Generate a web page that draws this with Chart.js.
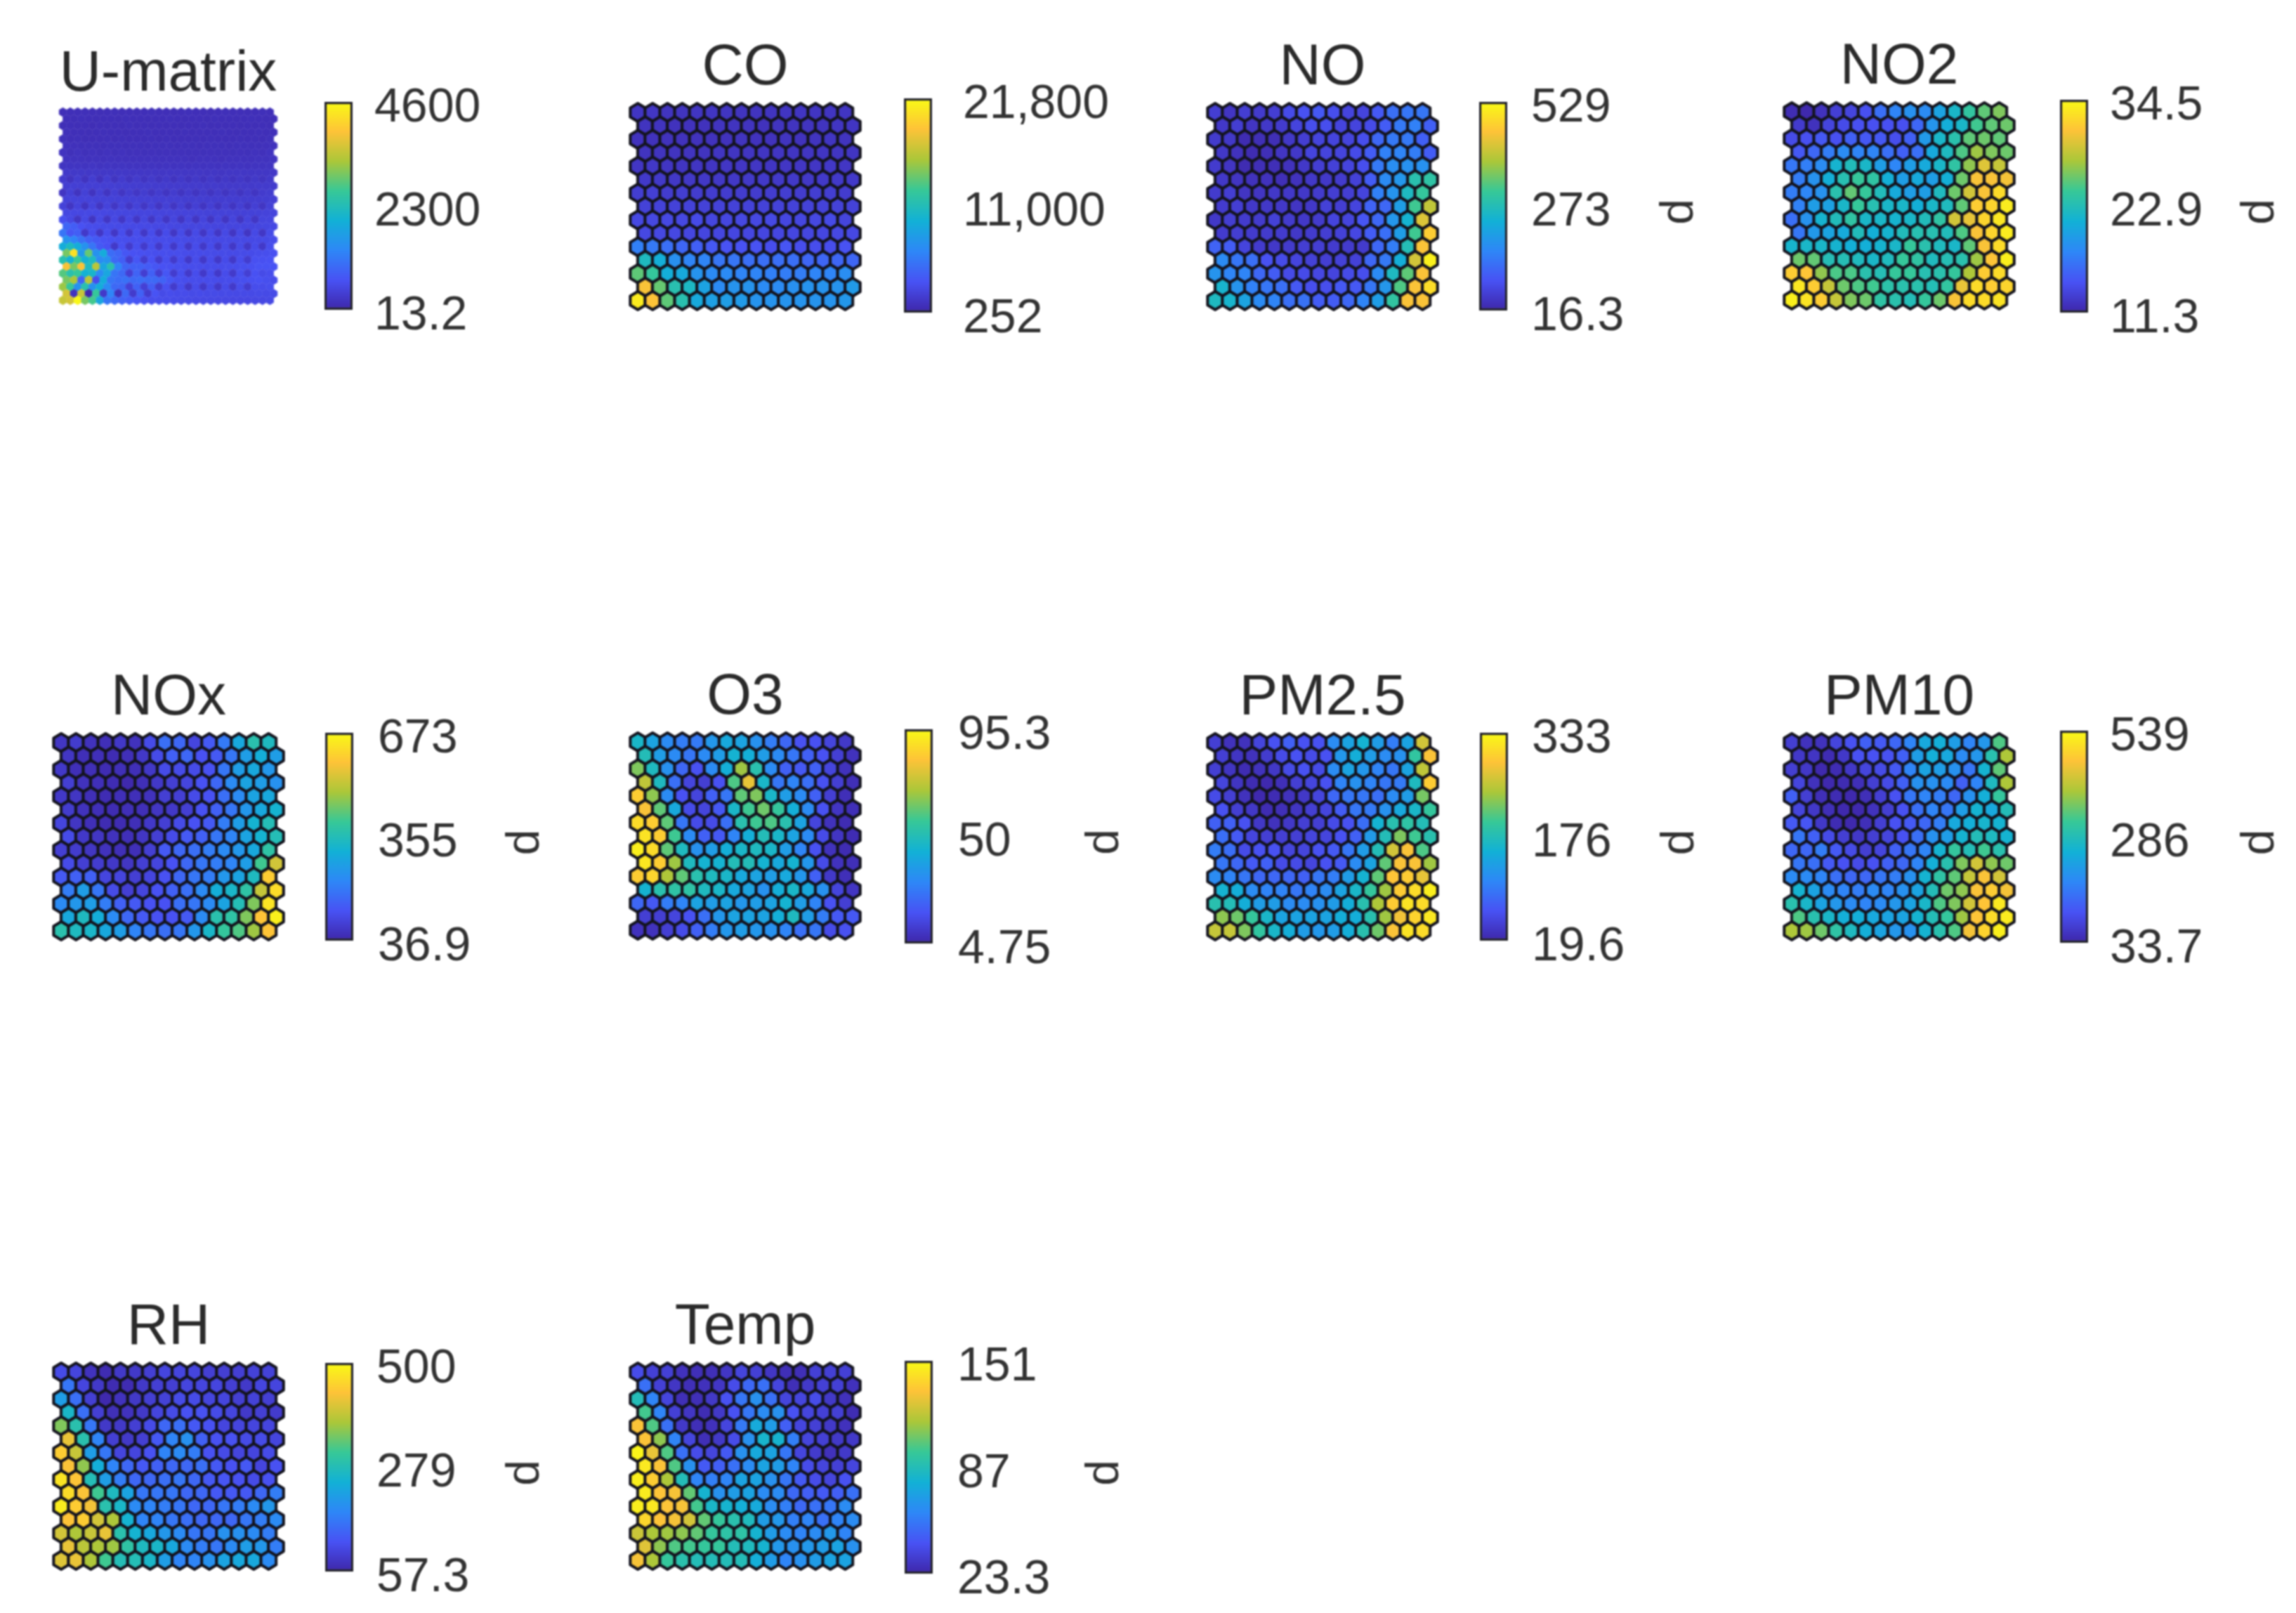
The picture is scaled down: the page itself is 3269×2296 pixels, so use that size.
<!DOCTYPE html>
<html>
<head>
<meta charset="utf-8">
<title>SOM component planes</title>
<script src="https://cdn.jsdelivr.net/npm/chart.js@4"></script>
<style>
html, body { margin: 0; background: #fff; }
#page { position: relative; width: 3269px; height: 2296px; overflow: hidden; filter: blur(0.8px); }
canvas { position: absolute; }
</style>
</head>
<body>
<div id="page"></div>
<script>
const names = ["U-matrix", "CO", "NO", "NO2", "NOx", "O3", "PM2.5", "PM10", "RH", "Temp"];
const sideLabels = ["", "", "d", "d", "d", "d", "d", "d", "d", "d"];

const uValues = [
  [140,150,150,160,150,140,150,160,150,150,140,150,160,150,150,140,150,160,150,150,140,150,160,150,150,140,150,160,150],
  [150,140,160,150,140,150,150,140,160,150,150,140,150,150,160,150,140,150,150,140,160,150,150,140,150,160,150,140,150],
  [140,150,140,150,130,150,140,150,140,160,140,150,140,150,140,150,140,150,140,160,140,150,140,150,140,150,140,150,140],
  [160,150,150,140,150,160,150,150,140,150,150,160,150,150,150,140,160,150,150,150,150,160,150,140,150,150,160,150,160],
  [170,150,160,140,150,150,160,140,160,150,150,150,160,140,160,150,150,150,160,150,160,150,150,150,160,150,160,150,170],
  [190,180,170,170,170,160,170,170,160,170,170,160,170,170,170,160,170,170,160,170,170,170,160,170,170,170,170,180,190],
  [210,170,200,170,190,170,190,170,190,170,180,170,180,170,180,170,180,170,180,170,180,170,180,170,180,170,190,180,210],
  [210,200,200,190,200,190,200,190,190,190,190,190,190,190,190,190,190,180,190,190,190,180,190,190,190,190,200,200,220],
  [230,240,240,220,250,220,240,220,230,220,220,210,220,210,220,210,220,210,220,210,220,210,220,210,220,210,220,220,230],
  [300,290,290,280,290,280,280,280,280,270,270,260,270,260,270,260,260,260,260,250,260,250,260,260,260,260,260,260,280],
  [330,220,350,220,360,210,360,230,330,240,320,240,310,230,300,220,300,220,290,220,290,220,280,220,280,220,290,230,300],
  [370,390,380,390,390,380,380,370,370,360,350,350,340,340,330,330,320,320,320,310,320,310,310,310,310,310,320,320,330],
  [240,400,220,410,220,400,240,390,250,360,260,350,250,340,240,340,230,330,230,320,230,320,230,320,230,320,240,330,350],
  [430,440,440,440,430,430,430,420,420,410,400,400,390,390,380,380,370,370,370,360,360,360,360,360,350,360,360,370,390],
  [430,250,450,240,460,250,450,260,440,270,430,260,420,250,410,250,400,240,390,240,390,240,380,240,380,240,390,250,410],
  [500,510,510,520,520,510,500,500,490,490,480,480,470,460,460,450,450,440,440,430,430,430,430,420,420,430,430,440,460],
  [620,520,260,530,240,530,260,520,270,510,270,500,260,490,260,480,250,470,250,460,250,460,250,460,250,460,260,470,480],
  [900,800,650,590,580,560,560,550,550,540,540,530,520,520,510,500,500,490,490,490,480,480,480,480,480,480,490,500,520],
  [1100,720,820,300,600,260,600,270,600,280,590,280,580,270,570,260,560,260,550,260,540,260,530,250,530,250,540,260,560],
  [1500,1300,1050,850,760,680,640,620,610,600,600,590,580,580,570,570,560,550,550,540,540,540,530,530,530,540,540,550,580],
  [1900,2200,1900,1500,1100,760,660,300,640,320,620,320,610,310,600,300,590,290,580,290,570,290,560,280,560,290,570,300,600],
  [3000,4300,1600,2900,1500,1900,1000,900,720,660,640,620,610,610,590,590,580,570,570,560,560,560,550,550,560,570,590,610,640],
  [2400,2000,2600,2000,2200,1400,1500,950,820,360,720,350,660,340,620,320,600,300,590,300,580,300,570,300,600,350,640,640,660],
  [3900,3000,3900,2200,3400,1800,2400,1300,900,840,840,780,720,660,640,620,600,590,580,570,580,580,590,600,620,640,680,680,680],
  [2800,2400,2600,2000,2100,1400,1800,1100,950,380,880,370,840,370,720,340,620,310,600,300,590,300,580,310,620,380,660,560,600],
  [3000,3300,900,3400,600,1900,1100,1000,1050,950,1000,950,950,880,720,620,600,590,580,580,580,570,580,590,620,640,660,620,580],
  [3200,2600,1500,2400,1500,1900,1400,950,900,420,860,400,800,360,640,320,600,300,580,300,570,300,570,310,590,340,600,580,610],
  [3600,200,3500,50,2600,300,1300,190,950,320,850,340,680,560,600,570,580,560,570,550,560,550,550,540,550,550,560,550,560],
  [3500,3600,4550,3000,2700,1800,1100,950,850,780,700,640,600,590,580,570,560,550,540,530,530,520,520,510,510,510,520,520,530]
];
const coValues = [
  [1300,1400,1200,1200,1300,1300,1300,1200,1200,1200,1300,1300,1300,1300,1300],
  [1200,1200,1100,1100,1100,1200,1200,1200,1100,1200,1200,1200,1200,1300,1300],
  [1100,1100,1100,1100,1100,1100,1100,1200,1100,1100,1200,1100,1200,1300,1200],
  [1200,1200,1200,1200,1200,1300,1300,1300,1300,1300,1300,1300,1300,1300,1300],
  [1400,1500,1300,1300,1300,1300,1400,1400,1400,1300,1400,1400,1400,1500,1400],
  [1600,1600,1500,1500,1500,1500,1500,1600,1600,1600,1600,1500,1600,1600,1600],
  [1900,2000,1800,1900,1800,1800,1800,1800,1800,1800,1900,1800,1900,1900,1800],
  [2200,2200,2200,2200,2200,2200,2200,2200,2200,2200,2200,2200,2200,2200,2200],
  [2600,2600,2600,2600,2800,2500,2500,2600,2600,2700,2500,2500,2600,2800,2400],
  [2600,2600,2600,2500,2500,2500,2500,2500,2500,2500,2500,2500,2500,2600,2600],
  [6000,5600,5000,4500,4100,3700,3300,3300,3300,3000,3500,3000,3000,3000,3300],
  [10600,9300,7100,6300,6300,5400,5400,5000,5000,5000,5000,4500,4500,4500,4500],
  [13600,12300,9300,8900,7300,6700,6700,6300,6300,6000,5800,5800,6300,6300,6900],
  [18500,13800,11400,10400,8400,6700,7300,7300,6700,6700,7100,7300,7300,7300,7800],
  [20900,18700,13600,11400,8900,8200,8000,7800,7300,7300,7300,7300,7300,7300,7600]
];
const noValues = [
  [57,42,57,52,57,78,88,98,83,67,67,98,129,139,139],
  [47,57,42,47,52,67,83,83,67,67,78,103,144,155,108],
  [52,47,26,31,31,47,57,67,67,67,83,119,144,144,108],
  [47,37,26,31,42,47,67,67,67,78,103,155,160,149,103],
  [52,42,26,31,31,37,47,57,62,67,83,144,175,180,180],
  [47,42,37,37,31,37,47,47,52,62,103,170,190,283,293],
  [52,57,42,42,47,47,47,52,57,57,67,155,185,262,303],
  [52,57,47,47,47,42,47,62,57,67,113,119,201,314,401],
  [47,57,52,52,62,52,47,52,67,67,93,119,190,242,426],
  [52,57,52,52,52,47,52,57,62,72,103,129,201,314,467],
  [113,103,67,52,47,52,57,57,52,52,52,119,149,273,452],
  [170,139,129,88,78,67,62,57,62,62,119,144,231,416,514],
  [185,160,160,119,103,78,78,72,67,78,83,170,262,334,452],
  [247,185,155,139,129,98,83,83,98,98,139,190,324,452,488],
  [262,247,211,170,160,129,134,103,103,119,160,201,298,452,452]
];
const no2Values = [
  [11.8,11.5,12.2,13.2,13.6,14.5,16.4,17.8,18.7,18.3,20.1,22,24.1,25.7,26.6],
  [12.9,12.2,13.6,14.1,14.5,14.5,14.5,14.5,15.9,19,21,22,24.8,25.7,26.1],
  [14.1,14.5,15,14.5,15.5,15,15,14.3,15.5,19.4,22,23.4,25.7,26.1,25.7],
  [15,15.9,17.3,18.3,17.8,17.8,16.4,15.5,16.4,20.6,22.4,25.2,27.5,26.6,26.1],
  [16.9,17.4,18.3,21.6,22.7,22,19.7,17.9,19.7,20.7,22,23.9,27.1,29.9,28.9],
  [17.3,18.8,21.1,23.2,24.4,23.9,21.1,19.7,20.7,19.7,21.1,26.1,31,31,30.8],
  [17.3,17.9,18.8,23.4,25.8,24.4,22.7,20.7,19.7,19.7,22.5,26.1,29.4,31,32.6],
  [17.6,19.7,20,22,24.4,23.2,22,22,21.1,22,22.5,25.7,31.7,32.2,33.6],
  [16.4,18.8,21.6,22.7,23.9,22,22,21.6,22,22.7,23.9,29.4,30.3,32.2,33.3],
  [16.9,19.3,20.2,20.7,22.7,21.1,21.6,22.7,23.2,23.2,22.7,25.2,31,32.2,33.6],
  [21.7,22,22,21.6,21.1,21.1,21.6,22,24.4,23.4,22.5,22,25.7,31,32.6],
  [26.1,25.8,23,23,22.5,22,22.5,24.4,23.9,22.5,23,23.4,27.5,31.3,33.8],
  [31.7,31.3,27.1,25.1,25.1,23.4,23,24.4,24.4,23.2,23.4,24.3,28,31.7,32.6],
  [33.3,31.7,28.9,26.1,25.2,24.8,23.6,23.4,23.4,22.9,24.1,30.3,32.6,31.7,32.2],
  [33.8,33.1,31.7,28.9,26.6,26.1,23.8,23.4,22.9,24.3,26.1,31,32.6,32.6,33.1]
];
const noxValues = [
  [69,82,62,56,75,62,113,177,164,101,139,196,291,368,342],
  [69,56,56,50,56,75,113,151,164,126,139,190,266,304,266],
  [75,56,56,50,56,56,75,113,113,113,126,190,266,291,253],
  [88,62,56,50,43,56,75,88,101,126,164,228,279,266,241],
  [75,69,56,50,56,56,62,88,88,113,126,177,228,279,291],
  [82,62,56,50,56,56,69,75,88,126,151,190,253,291,317],
  [101,69,56,50,50,56,75,88,113,126,139,202,266,317,355],
  [113,75,69,62,56,69,88,113,139,151,190,215,279,317,355],
  [88,82,69,62,56,56,88,139,164,177,202,228,253,291,380],
  [113,88,82,75,69,88,101,126,164,190,202,215,266,406,533],
  [139,151,151,101,101,88,101,126,164,190,202,253,279,342,597],
  [202,266,190,113,88,101,126,151,177,228,304,330,380,520,622],
  [228,253,266,202,151,139,126,126,177,190,228,279,355,457,635],
  [291,342,304,228,164,139,126,126,139,228,368,380,457,584,654],
  [368,342,330,291,266,215,190,177,190,253,330,393,419,482,584]
];
const o3Values = [
  [46.4,39.1,31.9,28.3,27.4,35.5,41,39.1,33.7,28.3,22.9,17.4,17.4,13.8,10.2],
  [50,37.3,31.9,26.5,31.9,37.3,44.6,42.8,37.3,31.9,26.5,21,17.4,12,8.4],
  [64.5,48.2,33.7,22.9,17.4,31.9,42.8,68.1,51.8,31.9,21,19.2,21,13.8,8.4],
  [72.6,48.2,24.7,13.8,12,17.4,59,79,46.4,26.5,30.1,24.7,17.4,12,7.5],
  [84.4,66.3,31.9,17.4,13.8,21,26.5,60.9,64.5,46.4,37.3,31.9,21,12,7.5],
  [81.7,60.9,41,15.6,13.8,19.2,46.4,57.2,62.7,55.4,42.8,31.9,17.4,9.3,7.5],
  [88,84.4,60.9,26.5,15.6,15.6,24.7,51.8,57.2,59,51.8,39.1,13.8,8.4,6.6],
  [89.8,84.4,57.2,31.9,21,19.2,30.1,42.8,50,46.4,39.1,31.9,15.6,9.3,6.6],
  [92.5,88,60.9,48.2,33.7,37.3,42.8,46.4,48.2,46.4,37.3,30.1,17.4,8.4,6.6],
  [90.7,84.4,68.1,48.2,44.6,44.6,50,50,44.6,41,44.6,35.5,15.6,8.4,7.5],
  [84.4,86.2,70,60.9,51.8,48.2,46.4,41,39.1,37.3,41,35.5,21,10.2,7.5],
  [44.6,51.8,53.6,53.6,48.2,46.4,41,39.1,33.7,42.8,46.4,41,33.7,13.8,9.3],
  [22.9,19.2,28.3,30.1,39.1,37.3,39.1,35.5,37.3,39.1,44.6,37.3,30.1,17.4,12],
  [12,12,13.8,17.4,24.7,35.5,39.1,39.1,39.1,42.8,48.2,37.3,28.3,19.2,19.2],
  [8.4,8.4,12,15.6,21,28.3,35.5,37.3,35.5,33.7,30.1,24.7,26.5,15.6,17.4]
];
const pm25Values = [
  [45,32,32,51,63,76,63,63,114,139,157,132,101,139,264],
  [45,35,32,42,57,63,57,63,126,151,132,114,120,192,286],
  [45,35,26,32,38,57,63,57,114,139,126,107,95,139,254],
  [51,35,26,23,29,45,51,63,107,120,107,95,98,170,295],
  [57,45,32,23,26,32,38,51,82,95,95,88,114,132,223],
  [63,45,38,26,29,35,45,51,73,95,98,120,145,164,195],
  [76,76,63,38,32,38,45,45,57,63,88,157,182,189,176],
  [88,70,51,45,45,45,51,51,63,76,129,176,226,201,182],
  [101,88,57,63,63,51,51,63,70,95,132,176,264,286,207],
  [95,82,70,76,57,57,51,63,70,114,139,214,286,286,239],
  [114,107,95,82,82,82,76,95,101,132,157,214,289,295,276],
  [157,151,114,107,107,95,107,114,139,164,195,239,295,308,323],
  [182,176,151,132,132,114,114,120,132,151,182,245,295,314,308],
  [232,220,195,164,139,139,139,139,151,151,182,239,282,301,317],
  [257,257,226,192,164,151,132,126,132,151,182,220,286,314,308]
];
const pm10Values = [
  [74,54,54,84,104,125,115,135,175,236,246,216,175,205,337],
  [64,59,44,64,104,104,104,125,216,246,236,185,205,296,397],
  [74,64,39,44,64,84,94,115,175,226,216,195,155,256,347],
  [84,54,39,44,49,74,94,125,195,195,185,125,175,276,397],
  [125,74,49,44,39,49,74,104,155,175,165,135,195,246,316],
  [84,64,49,39,39,54,74,104,145,175,155,216,256,236,286],
  [115,110,64,44,39,49,74,104,115,135,165,236,246,261,256],
  [155,125,94,74,64,74,84,104,145,195,216,256,286,276,256],
  [135,135,165,115,94,74,84,125,155,175,256,316,286,327,296],
  [155,145,115,104,94,104,125,135,175,246,296,367,428,377,357],
  [185,185,175,145,135,135,155,165,195,256,306,347,418,463,428],
  [256,226,185,175,165,185,175,195,226,286,357,377,463,478,458],
  [296,266,226,205,185,175,185,205,226,266,337,367,428,468,514],
  [337,296,266,246,246,236,226,226,256,286,316,387,468,498,519],
  [397,387,357,306,276,246,226,205,195,256,296,337,458,488,524]
];
const rhValues = [
  [110,102,75,66,84,84,93,102,102,102,93,93,93,97,97],
  [164,102,84,66,66,84,93,93,102,102,102,93,84,102,102],
  [217,155,93,62,75,84,93,97,110,110,102,102,93,97,93],
  [261,155,93,71,75,84,102,110,119,119,110,102,84,93,88],
  [350,288,164,84,84,93,110,146,155,128,119,102,102,102,102],
  [421,288,181,93,84,93,128,181,199,137,119,119,110,110,102],
  [447,394,217,164,102,102,119,181,190,172,119,110,102,102,110],
  [434,359,243,181,146,128,137,146,146,155,128,119,128,102,119],
  [474,438,279,217,172,146,146,155,164,146,128,124,119,110,119],
  [465,434,314,270,226,164,164,164,146,146,128,128,128,146,172],
  [483,447,429,288,261,190,181,172,164,146,146,164,172,190,208],
  [438,447,403,376,252,181,181,164,155,146,146,146,164,172,190],
  [403,376,394,421,288,252,234,208,190,164,164,199,199,190,172],
  [421,385,376,367,297,270,261,234,190,172,164,190,217,208,172],
  [412,421,376,314,279,279,261,217,181,181,199,226,234,234,190]
];
const tempValues = [
  [39,34,34,28,27,27,30,36,34,30,27,27,34,34,34],
  [52,34,30,27,28,30,39,49,52,36,27,31,34,34,28],
  [87,59,36,27,27,31,41,54,64,52,36,36,39,31,28],
  [98,59,34,30,26,31,41,54,62,64,41,36,34,34,26],
  [132,100,52,31,27,28,36,55,75,69,46,36,34,31,28],
  [132,110,59,36,27,31,39,64,81,80,57,36,34,31,31],
  [149,128,100,52,39,36,44,64,75,72,54,36,32,28,31],
  [145,132,100,64,44,46,52,62,72,69,59,39,36,34,36],
  [147,136,115,87,59,57,59,72,72,64,54,44,39,36,41],
  [146,133,131,103,80,64,69,72,62,62,49,46,44,46,52],
  [147,145,133,131,98,82,80,77,75,62,57,49,52,54,62],
  [139,133,131,123,103,95,90,85,69,67,57,59,52,59,62],
  [121,115,113,110,103,95,92,92,80,69,62,59,62,67,59],
  [126,110,100,98,95,95,87,85,80,67,64,67,69,72,64],
  [131,115,95,90,87,87,87,87,77,69,59,64,69,72,72]
];
const planeValues = [uValues, coValues, noValues, no2Values, noxValues, o3Values, pm25Values, pm10Values, rhValues, tempValues];

const barRanges = [[13.2, 4600], [252, 21800], [16.3, 529], [11.3, 34.5], [36.9, 673], [4.75, 95.3], [19.6, 333], [33.7, 539], [57.3, 500], [23.3, 151]];
const barTickValues = [[13.2, 2300, 4600], [252, 11000, 21800], [16.3, 273, 529], [11.3, 22.9, 34.5], [36.9, 355, 673], [4.75, 50, 95.3], [19.6, 176, 333], [33.7, 286, 539], [57.3, 279, 500], [23.3, 87, 151]];
const barTickLabels = [["13.2", "2300", "4600"], ["252", "11,000", "21,800"], ["16.3", "273", "529"], ["11.3", "22.9", "34.5"], ["36.9", "355", "673"], ["4.75", "50", "95.3"], ["19.6", "176", "333"], ["33.7", "286", "539"], ["57.3", "279", "500"], ["23.3", "87", "151"]];

// parula, sampled from the colour bar
const parula = [[62,38,168], [72,82,244], [46,135,247], [18,177,214], [55,200,151], [171,199,57], [254,195,56], [249,251,21]];

// layout of each panel, in page pixels
const mapX = [86, 905, 1727, 2548, 84, 905, 1727, 2548, 84, 905];
const mapY = [160, 160, 160, 159, 1057, 1056, 1057, 1057, 1953, 1953];
const barLeft = [462, 1287, 2106, 2933, 463, 1288, 2107, 2933, 463, 1288];
const barTop = [145, 140, 145, 142, 1043, 1038, 1043, 1040, 1940, 1937];
const barBottom = [441, 445, 442, 445, 1339, 1343, 1339, 1342, 2237, 2240];
const tickGap = [23, 36, 26, 23, 27, 28, 26, 23, 25, 27];

const FONT = "'Liberation Sans', Arial, sans-serif";
const page = document.getElementById("page");

function addCanvas(left, top, width, height) {
    const c = document.createElement("canvas");
    c.width = width;
    c.height = height;
    c.style.left = left + "px";
    c.style.top = top + "px";
    page.appendChild(c);
    return c;
}

function parulaColor(t) {
    t = Math.max(0, Math.min(1, t)) * (parula.length - 1);
    const i = Math.min(Math.floor(t), parula.length - 2);
    const f = t - i;
    const rgb = parula[i].map((a, k) => Math.round(a + (parula[i + 1][k] - a) * f));
    return `rgb(${rgb[0]},${rgb[1]},${rgb[2]})`;
}

// one small canvas per colour, handed to Chart.js as pointStyle
const hexCache = {};
function hexagon(color, stepX, stepY, edge, lineWidth) {
    const key = [color, stepX, stepY, edge].join("|");
    if (hexCache[key]) return hexCache[key];
    const a = stepX / 2, r = stepY / 1.5;
    const c = document.createElement("canvas");
    c.width = Math.ceil(stepX + lineWidth + 2);
    c.height = Math.ceil(2 * r + lineWidth + 2);
    const g = c.getContext("2d");
    g.translate(c.width / 2, c.height / 2);
    g.beginPath();
    [[0, -r], [a, -r / 2], [a, r / 2], [0, r], [-a, r / 2], [-a, -r / 2]].forEach((p, i) => {
        if (i === 0) g.moveTo(p[0], p[1]); else g.lineTo(p[0], p[1]);
    });
    g.closePath();
    g.fillStyle = color;
    g.fill();
    g.lineJoin = "round";
    g.lineWidth = lineWidth;
    g.strokeStyle = edge || color;
    g.stroke();
    hexCache[key] = c;
    return c;
}

function drawMap(i) {
    const rows = planeValues[i];
    const isU = i === 0;
    const stepX = isU ? 10.8 : 21.6;
    const stepY = isU ? 9.7 : 19.4;
    const titleHeight = 85;
    const nRows = rows.length, nCols = rows[0].length;
    const [lo, hi] = barRanges[i];

    const points = [];
    rows.forEach((row, r) => row.forEach((v, c) => {
        points.push({ x: c + (r % 2 ? 0.5 : 0), y: r, v: v });
    }));

    const left = Math.round(mapX[i] - stepX);
    const top = Math.round(mapY[i] - stepY - titleHeight);
    const canvas = addCanvas(left, top, Math.round((nCols + 1.5) * stepX), Math.round(titleHeight + (nRows + 1) * stepY));

    new Chart(canvas, {
        type: "scatter",
        data: {
            datasets: [{
                data: points,
                clip: false,
                pointRadius: 0.2,
                pointBorderWidth: 0,
                pointStyle: ctx => {
                    const color = parulaColor((ctx.raw.v - lo) / (hi - lo));
                    return isU ? hexagon(color, stepX, stepY, null, 0.5) : hexagon(color, stepX, stepY, "#14141e", 4);
                }
            }]
        },
        options: {
            responsive: false,
            animation: false,
            events: [],
            layout: { padding: 0 },
            plugins: {
                legend: { display: false },
                tooltip: { enabled: false },
                title: {
                    display: true,
                    text: names[i],
                    color: "#2b2b2b",
                    font: { family: FONT, size: 82, weight: "normal", lineHeight: 1 },
                    padding: { top: 0, bottom: titleHeight - 82 }
                }
            },
            scales: {
                x: { display: false, min: -1, max: nCols + 0.5 },
                y: { display: false, reverse: true, min: -1, max: nRows }
            }
        }
    });
}

function drawBar(i) {
    const [lo, hi] = barRanges[i];
    const margin = 60, barWidth = 40, axisWidth = 298;
    const canvas = addCanvas(barLeft[i], barTop[i] - margin, barWidth + axisWidth, barBottom[i] - barTop[i] + 2 * margin);
    const side = sideLabels[i];

    new Chart(canvas, {
        type: "bar",
        data: {
            labels: [names[i]],
            datasets: [{
                data: [[lo, hi]],
                barPercentage: 1,
                categoryPercentage: 1,
                borderColor: "#24242c",
                borderWidth: 3.5,
                borderSkipped: false,
                backgroundColor: ctx => {
                    const area = ctx.chart.chartArea;
                    if (!area) return "#3e26a8";
                    const g = ctx.chart.ctx.createLinearGradient(0, area.bottom, 0, area.top);
                    parula.forEach((rgb, k) => g.addColorStop(k / (parula.length - 1), `rgb(${rgb.join(",")})`));
                    return g;
                }
            }]
        },
        options: {
            responsive: false,
            animation: false,
            events: [],
            layout: { padding: { top: margin, bottom: margin, left: 0, right: 0 } },
            plugins: { legend: { display: false }, tooltip: { enabled: false } },
            scales: {
                x: { display: false },
                y: {
                    position: "right",
                    min: lo,
                    max: hi,
                    grid: { display: false },
                    border: { display: false },
                    afterBuildTicks: s => { s.ticks = barTickValues[i].map(v => ({ value: v })); },
                    afterFit: s => { s.width = axisWidth; s.paddingTop = 0; s.paddingBottom = 0; },
                    ticks: {
                        autoSkip: false,
                        padding: tickGap[i],
                        labelOffset: 9,
                        color: "#333",
                        font: { family: FONT, size: 68 },
                        callback: (v, k) => barTickLabels[i][k]
                    }
                }
            }
        },
        plugins: [{
            id: "sideLabel",
            afterDraw(chart) {
                if (!side) return;
                const g = chart.ctx, area = chart.chartArea;
                g.save();
                g.translate(area.right + 246, (area.top + area.bottom) / 2 + 8);
                g.rotate(-Math.PI / 2);
                g.font = "66px " + FONT;
                g.fillStyle = "#333";
                g.textAlign = "center";
                g.textBaseline = "middle";
                g.fillText(side, 0, 0);
                g.restore();
            }
        }]
    });
}

names.forEach((name, i) => {
    drawMap(i);
    drawBar(i);
});
</script>
</body>
</html>
